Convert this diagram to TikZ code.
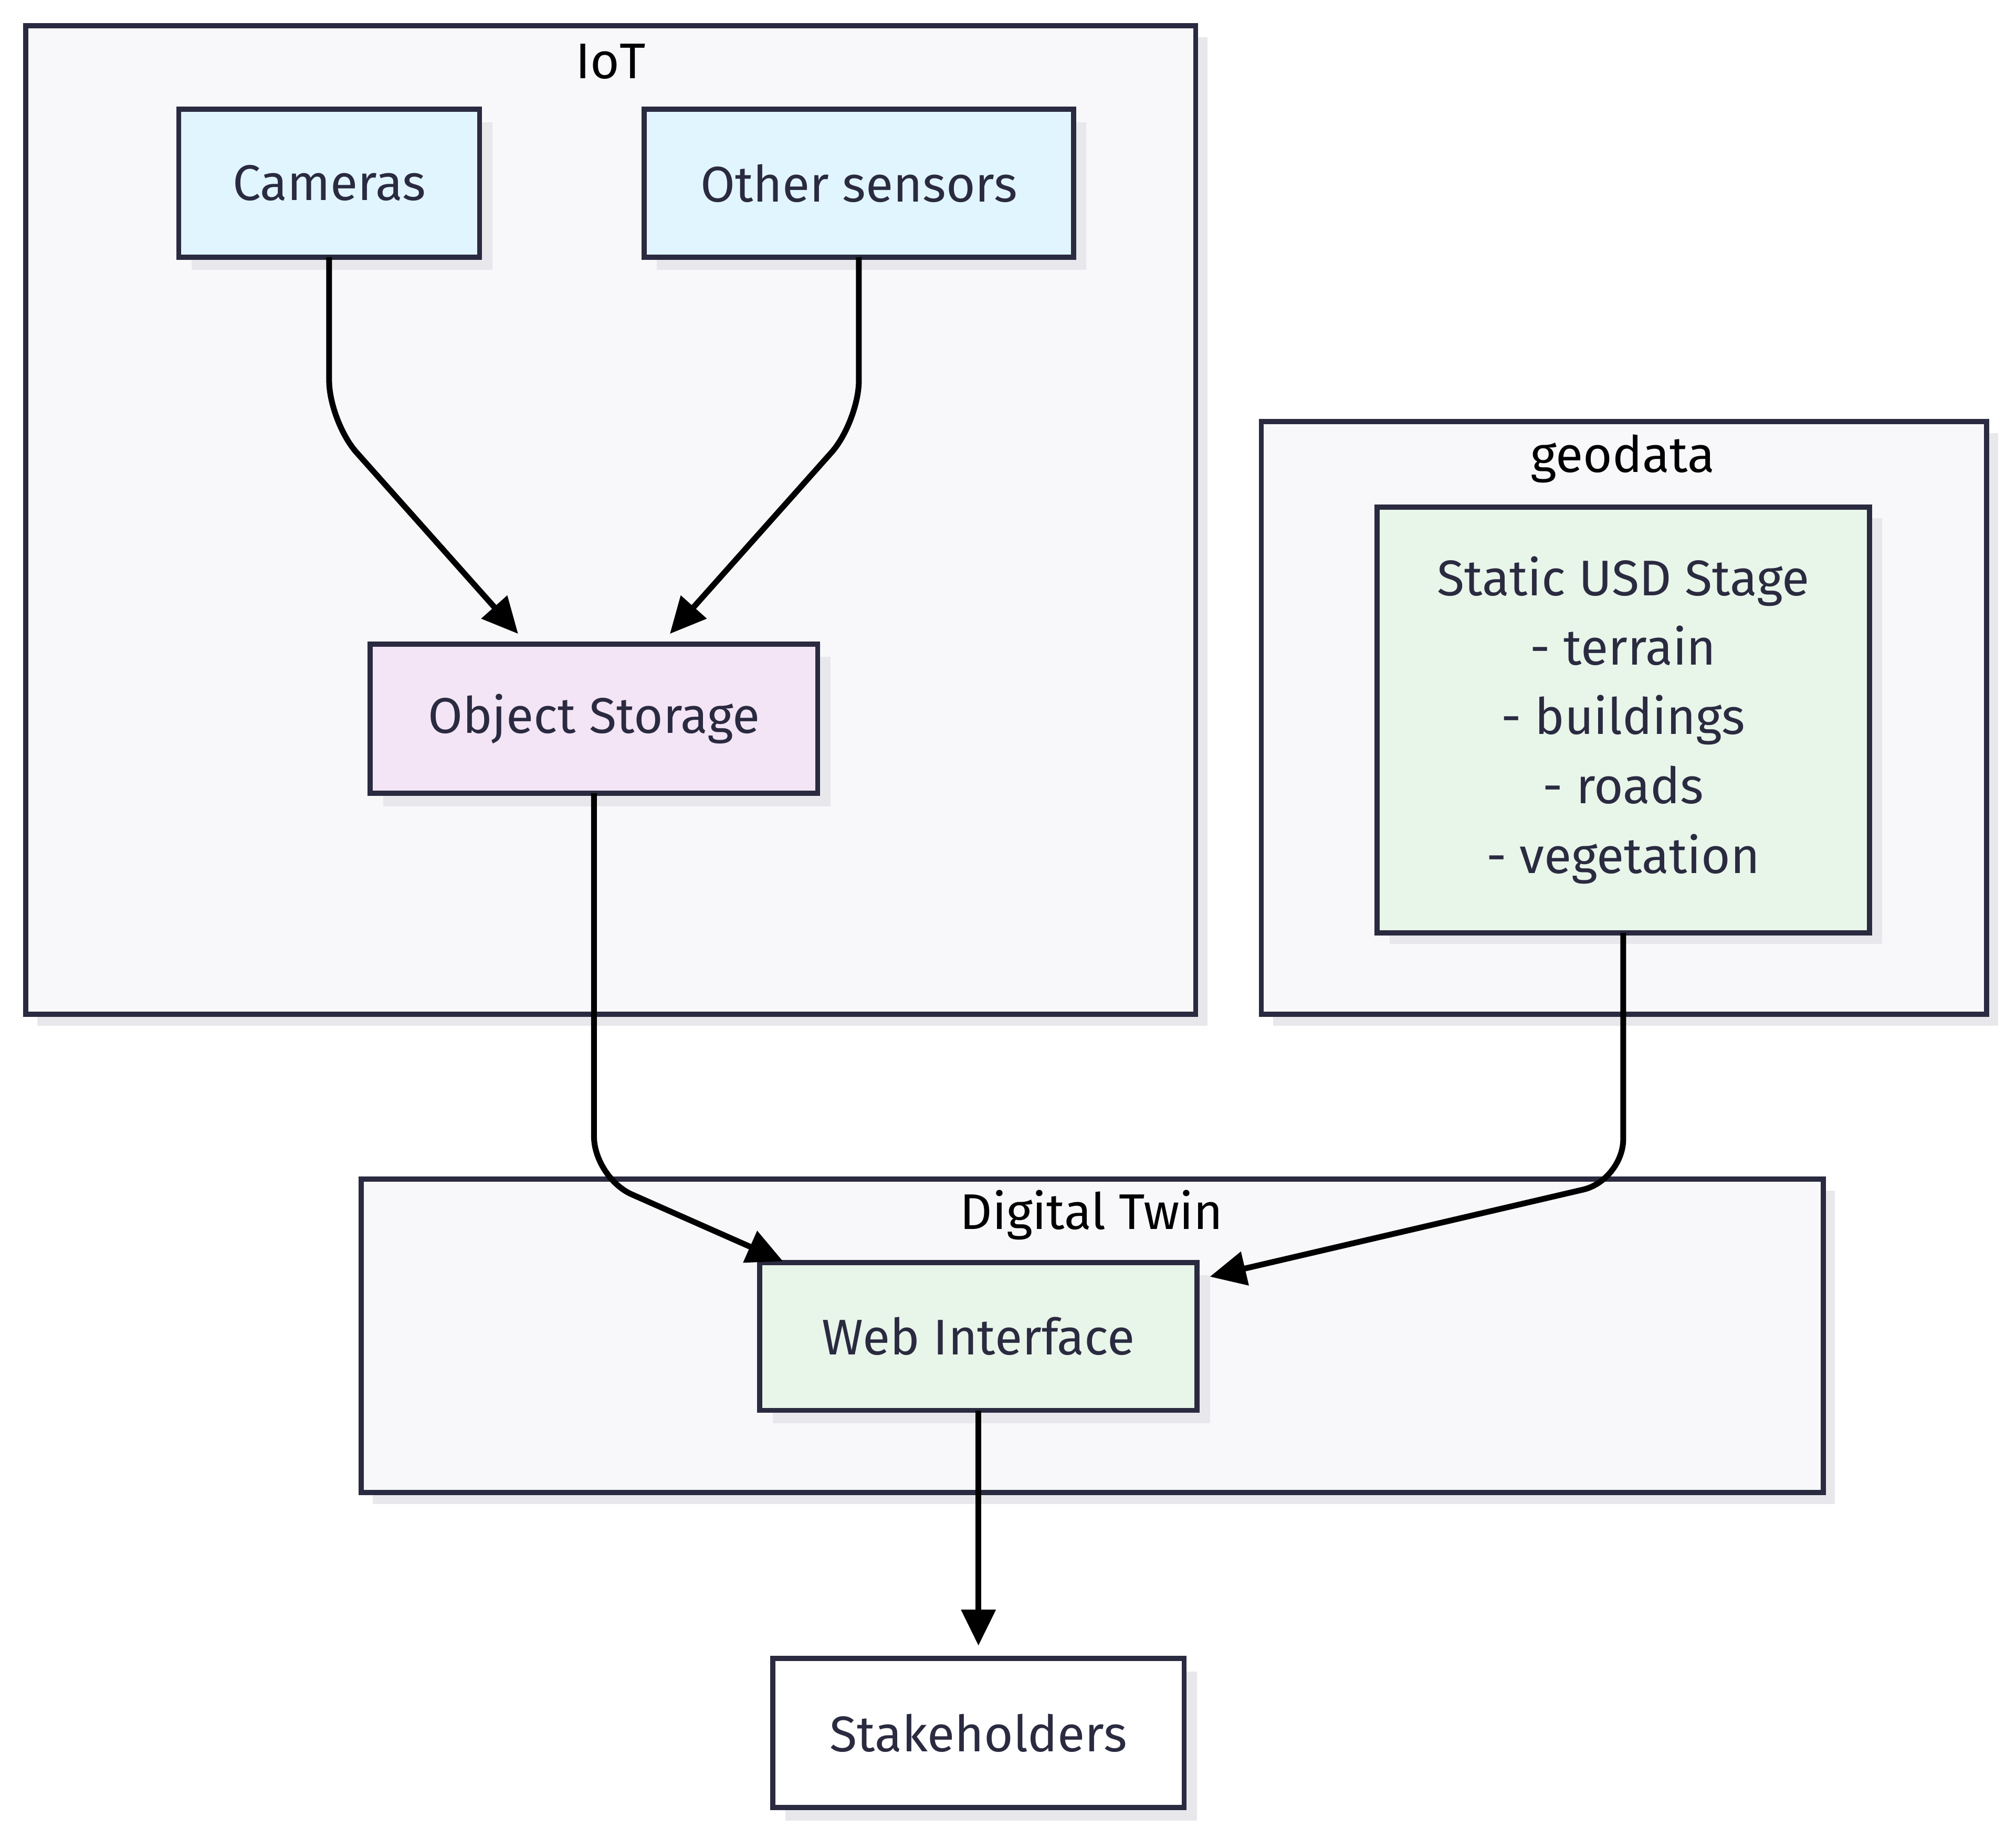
\documentclass[tikz,border=0pt]{standalone}
\usepackage{fontspec}
\setmainfont{Fira Sans}
\usetikzlibrary{arrows.meta}
\definecolor{bordc}{HTML}{2A2A40}
\definecolor{txtc}{HTML}{2A2A40}
\definecolor{clfill}{HTML}{F8F8FA}
\definecolor{shadc}{HTML}{E8E8EC}
\definecolor{bluef}{HTML}{E1F5FE}
\definecolor{purpf}{HTML}{F3E5F5}
\definecolor{greenf}{HTML}{E8F5E9}
\tikzset{
  boxnode/.style={draw=bordc, line width=4pt, text=txtc, inner sep=0pt, outer sep=0pt,
    font=\fontsize{39}{54}\selectfont, align=center},
  clusterbox/.style={draw=bordc, line width=4pt, fill=clfill},
  shadowbox/.style={fill=shadc, draw=none},
  cltitle/.style={text=black, font=\fontsize{39}{44}\selectfont, inner sep=0pt},
  flow/.style={draw=black, line width=4.5pt, rounded corners=32pt,
    -{Triangle[length=28pt,width=26pt]}},
}
\begin{document}
\begin{tikzpicture}[x=1pt,y=-1pt]
\useasboundingbox (0,0) rectangle (1568,1430);
\fill[white] (0,0) rectangle (1568,1430);
% cluster shadows
\fill[shadowbox] (29,29) rectangle (939,798);
\fill[shadowbox] (990,337) rectangle (1554,798);
\fill[shadowbox] (290,926) rectangle (1427,1170);
% clusters
\draw[clusterbox] (20,20) rectangle (930,789);
\draw[clusterbox] (981,328) rectangle (1545,789);
\draw[clusterbox] (281,917) rectangle (1418,1161);
\node[cltitle] (tiot) at (475,48) {IoT};
\node[cltitle] (tgeo) at (1262,357) {geodata};
\node[cltitle] (tdt) at (849,945) {Digital Twin};
% node shadows
\fill[shadowbox] (149,95) rectangle (383,210);
\fill[shadowbox] (511,95) rectangle (845,210);
\fill[shadowbox] (298,511) rectangle (646,627);
\fill[shadowbox] (1081,403) rectangle (1464,734);
\fill[shadowbox] (601,992) rectangle (941,1107);
\fill[shadowbox] (611,1300) rectangle (931,1416);
% nodes
\node[boxnode, fill=bluef, minimum width=234pt, minimum height=115pt] (cam) at (256,142.5) {Cameras};
\node[boxnode, fill=bluef, minimum width=334pt, minimum height=115pt] (oth) at (668,142.5) {Other sensors};
\node[boxnode, fill=purpf, minimum width=348pt, minimum height=116pt] (obj) at (462,559) {Object Storage};
\node[boxnode, fill=greenf, minimum width=383pt, minimum height=331pt] (usd) at (1262.5,560)
  {Static USD Stage\\- terrain\\- buildings\\- roads\\- vegetation};
\node[boxnode, fill=greenf, minimum width=340pt, minimum height=115pt] (web) at (761,1039.5) {Web Interface};
\node[boxnode, fill=white, minimum width=320pt, minimum height=116pt] (stk) at (761,1348) {Stakeholders};
% connector waypoints
\coordinate (c1) at (256,328);
\coordinate (t1) at (403,493);
\coordinate (c2) at (668,328);
\coordinate (t2) at (521,493);
\coordinate (c3) at (462,916);
\coordinate (t3) at (609,981);
\coordinate (c4) at (1262.5,918);
\coordinate (t4) at (941,993);
\coordinate (t5) at (761,1280);
% connectors
\draw[flow] (cam.south) -- (c1) -- (t1);
\draw[flow] (oth.south) -- (c2) -- (t2);
\draw[flow] (obj.south) -- (c3) -- (t3);
\draw[flow] (usd.south) -- (c4) -- (t4);
\draw[flow] (web.south) -- (t5);
\end{tikzpicture}
\end{document}
